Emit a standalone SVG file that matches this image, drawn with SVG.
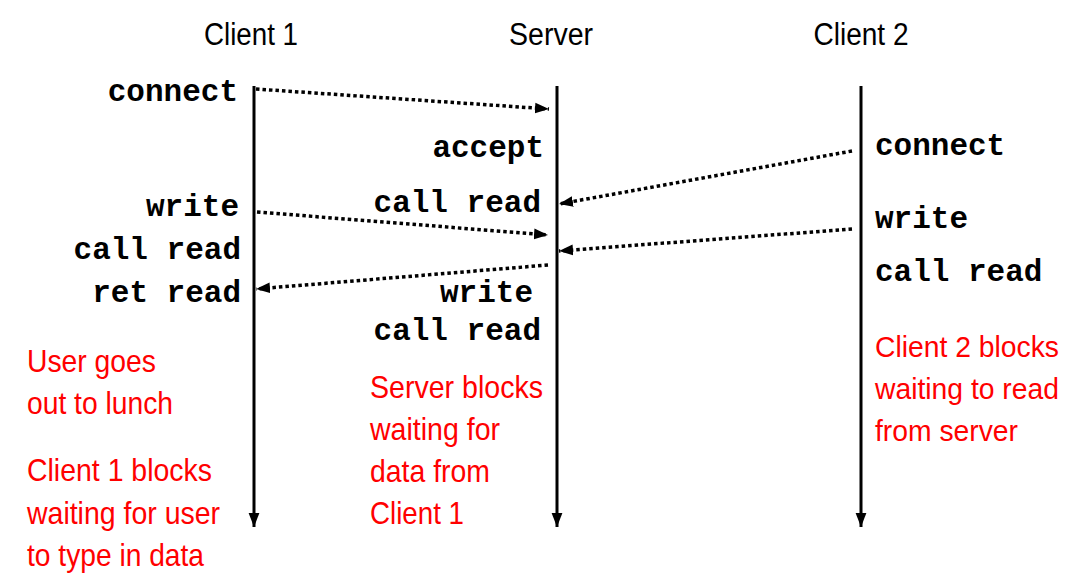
<svg xmlns="http://www.w3.org/2000/svg" width="1076" height="578" viewBox="0 0 1076 578">
<style>
.hdr{font-family:"Liberation Sans",Arial,sans-serif;font-size:31px;fill:#000}
.mono{font-family:"Liberation Mono","Courier New",monospace;font-weight:bold;font-size:31px;fill:#000}
.red{font-family:"Liberation Sans",Arial,sans-serif;font-size:32px;fill:#ff0000}
.red2{font-size:30px}
.life{stroke:#000;stroke-width:3;fill:none}
.msg{stroke:#000;stroke-width:3.5;stroke-dasharray:3.5 3;fill:none}
</style>
<defs>
<marker id="down" markerUnits="userSpaceOnUse" markerWidth="12" markerHeight="14" refX="5" refY="13" orient="0" viewBox="0 0 10 13">
<path d="M0,0 L10,0 L5,13 Z" fill="#000"/>
</marker>
<marker id="head" markerUnits="userSpaceOnUse" markerWidth="14" markerHeight="12" refX="13" refY="5" orient="auto" viewBox="0 0 13 10">
<path d="M0,0 L13,5 L0,10 Z" fill="#000"/>
</marker>
</defs>
<g id="client1">
<text class="hdr" x="251" y="45" text-anchor="middle" textLength="94" lengthAdjust="spacingAndGlyphs">Client 1</text>
<line class="life" x1="254" y1="86" x2="254" y2="527" marker-end="url(#down)"/>
<text class="mono" x="238" y="101" text-anchor="end">connect</text>
<text class="mono" x="239" y="216" text-anchor="end">write</text>
<text class="mono" x="241" y="259" text-anchor="end">call read</text>
<text class="mono" x="241" y="302" text-anchor="end">ret read</text>
<text class="red" x="27" y="372" textLength="129" lengthAdjust="spacingAndGlyphs">User goes</text>
<text class="red" x="27" y="414" textLength="146" lengthAdjust="spacingAndGlyphs">out to lunch</text>
<text class="red" x="27" y="481" textLength="185" lengthAdjust="spacingAndGlyphs">Client 1 blocks</text>
<text class="red" x="27" y="524" textLength="193" lengthAdjust="spacingAndGlyphs">waiting for user</text>
<text class="red" x="27" y="566" textLength="177" lengthAdjust="spacingAndGlyphs">to type in data</text>
</g>
<g id="server">
<text class="hdr" x="551" y="45" text-anchor="middle" textLength="84" lengthAdjust="spacingAndGlyphs">Server</text>
<line class="life" x1="557" y1="86" x2="557" y2="527" marker-end="url(#down)"/>
<text class="mono" x="544" y="157" text-anchor="end">accept</text>
<text class="mono" x="541" y="212" text-anchor="end">call read</text>
<text class="mono" x="533" y="302" text-anchor="end">write</text>
<text class="mono" x="541" y="340" text-anchor="end">call read</text>
<text class="red" x="370" y="398" textLength="173" lengthAdjust="spacingAndGlyphs">Server blocks</text>
<text class="red" x="370" y="440" textLength="130" lengthAdjust="spacingAndGlyphs">waiting for</text>
<text class="red" x="370" y="482" textLength="120" lengthAdjust="spacingAndGlyphs">data from</text>
<text class="red" x="370" y="524" textLength="94" lengthAdjust="spacingAndGlyphs">Client 1</text>
</g>
<g id="client2">
<text class="hdr" x="861" y="45" text-anchor="middle" textLength="95" lengthAdjust="spacingAndGlyphs">Client 2</text>
<line class="life" x1="861" y1="86" x2="861" y2="527" marker-end="url(#down)"/>
<text class="mono" x="875" y="155">connect</text>
<text class="mono" x="875" y="228">write</text>
<text class="mono" x="875" y="281">call read</text>
<text class="red red2" x="875" y="357" textLength="184" lengthAdjust="spacingAndGlyphs">Client 2 blocks</text>
<text class="red red2" x="875" y="399" textLength="184" lengthAdjust="spacingAndGlyphs">waiting to read</text>
<text class="red red2" x="875" y="441" textLength="143" lengthAdjust="spacingAndGlyphs">from server</text>
</g>
<g id="connectors">
<line class="msg" x1="256" y1="89" x2="549" y2="109" marker-end="url(#head)"/>
<line class="msg" x1="852" y1="151" x2="559" y2="204" marker-end="url(#head)"/>
<line class="msg" x1="257" y1="212" x2="548" y2="235" marker-end="url(#head)"/>
<line class="msg" x1="852" y1="229" x2="559" y2="251" marker-end="url(#head)"/>
<line class="msg" x1="548" y1="265" x2="256" y2="289" marker-end="url(#head)"/>
</g>
</svg>
